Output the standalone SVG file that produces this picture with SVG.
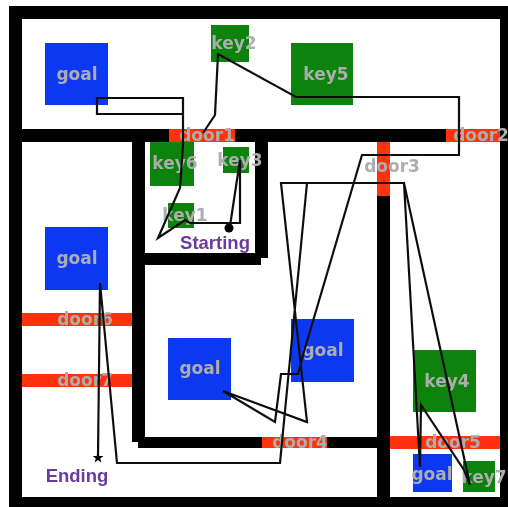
<svg xmlns="http://www.w3.org/2000/svg" width="508" height="507" viewBox="0 0 508 507">
<style>
.w{fill:#000}.d{fill:#ff3210}.g{fill:#0c38f2}.k{fill:#07830a}
.t{font-family:"DejaVu Sans",sans-serif;font-weight:700;font-size:17px;fill:#adadad;text-anchor:middle}
.p{font-family:"Liberation Sans",sans-serif;font-weight:700;font-size:18.5px;fill:#6a3a9c;text-anchor:middle}
.c{fill:none;stroke:#111;stroke-width:2.2;stroke-linejoin:miter}
</style>
<defs><filter id="b" x="0" y="0" width="100%" height="100%"><feGaussianBlur stdDeviation="0.5"/></filter></defs>
<rect width="508" height="507" fill="#fff"/>
<g filter="url(#b)">
<g id="walls">
<rect class="w" x="9" y="6" width="499" height="13"/>
<rect class="w" x="9" y="6" width="13" height="491"/>
<rect class="w" x="500" y="6" width="8" height="491"/>
<rect class="w" x="9" y="497" width="499" height="10"/>
<rect class="w" x="9" y="129" width="491" height="13"/>
<rect class="w" x="377" y="142" width="13" height="355"/>
<rect class="w" x="132" y="142" width="13" height="300"/>
<rect class="w" x="138" y="437" width="239" height="11"/>
<rect class="w" x="255" y="142" width="13" height="116"/>
<rect class="w" x="132" y="253" width="129" height="12"/>
</g>
<g id="door1"><rect class="d" x="169" y="129" width="66" height="13"/><text class="t" x="207" y="141">door1</text></g>
<g id="door2"><rect class="d" x="446" y="129" width="54" height="13"/><text class="t" x="481" y="141">door2</text></g>
<g id="door3"><rect class="d" x="377" y="142" width="13" height="54"/><text class="t" x="392" y="172">door3</text></g>
<g id="door4"><rect class="d" x="262" y="437" width="65" height="11"/><text class="t" x="300" y="448">door4</text></g>
<g id="door5"><rect class="d" x="390" y="436" width="110" height="13"/><text class="t" x="453" y="448">door5</text></g>
<g id="door6"><rect class="d" x="22" y="313" width="110" height="13"/><text class="t" x="85" y="325">door6</text></g>
<g id="door7"><rect class="d" x="22" y="374" width="110" height="13"/><text class="t" x="85" y="386">door7</text></g>
<g id="goal1"><rect class="g" x="45" y="43" width="63" height="62"/><text class="t" x="77" y="80">goal</text></g>
<g id="goal2"><rect class="g" x="45" y="227" width="63" height="63"/><text class="t" x="77" y="264">goal</text></g>
<g id="goal3"><rect class="g" x="168" y="338" width="63" height="62"/><text class="t" x="200" y="374">goal</text></g>
<g id="goal4"><rect class="g" x="291" y="319" width="63" height="63"/><text class="t" x="323" y="356">goal</text></g>
<g id="goal5"><rect class="g" x="413" y="454" width="39" height="38"/><text class="t" x="432" y="480">goal</text></g>
<g id="key1"><rect class="k" x="168" y="203" width="26" height="25"/><text class="t" x="185" y="221">key1</text></g>
<g id="key2"><rect class="k" x="211" y="25" width="38" height="37"/><text class="t" x="234" y="49">key2</text></g>
<g id="key3"><rect class="k" x="223" y="147" width="26" height="26"/><text class="t" x="240" y="166">key3</text></g>
<g id="key4"><rect class="k" x="413" y="350" width="63" height="62"/><text class="t" x="447" y="387">key4</text></g>
<g id="key5"><rect class="k" x="291" y="43" width="62" height="62"/><text class="t" x="326" y="80">key5</text></g>
<g id="key6"><rect class="k" x="150" y="142" width="44" height="44"/><text class="t" x="175" y="169">key6</text></g>
<g id="key7"><rect class="k" x="463" y="461" width="32" height="31"/><text class="t" x="484" y="483">key7</text></g>
<g id="connectors">
<polyline class="c" points="230,226 240,160 240,223 190,223 185,220 158,238 180,188 183,145 183,98 97,98 97,114 183,114 183,131"/>
<polyline class="c" points="203,133 215,115 218,54 296,97 459,97 459,155 362,155 303,355 298,374 281,374 275,422 223,391 307,422 281,183 404,183 420,467 421,405 464,470 470,485 404,183 307,183 280,463 117,463 100,283 98,455"/>
</g>
<g id="start"><circle cx="229" cy="228" r="4.5" fill="#000"/><text class="p" x="215" y="249">Starting</text></g>
<g id="end"><polygon points="98,452 99.4,456 103.5,456 100.2,458.5 101.4,462.5 98,460 94.6,462.5 95.8,458.5 92.5,456 96.6,456" fill="#000"/><text class="p" x="77" y="482">Ending</text></g>
</g>
</svg>
